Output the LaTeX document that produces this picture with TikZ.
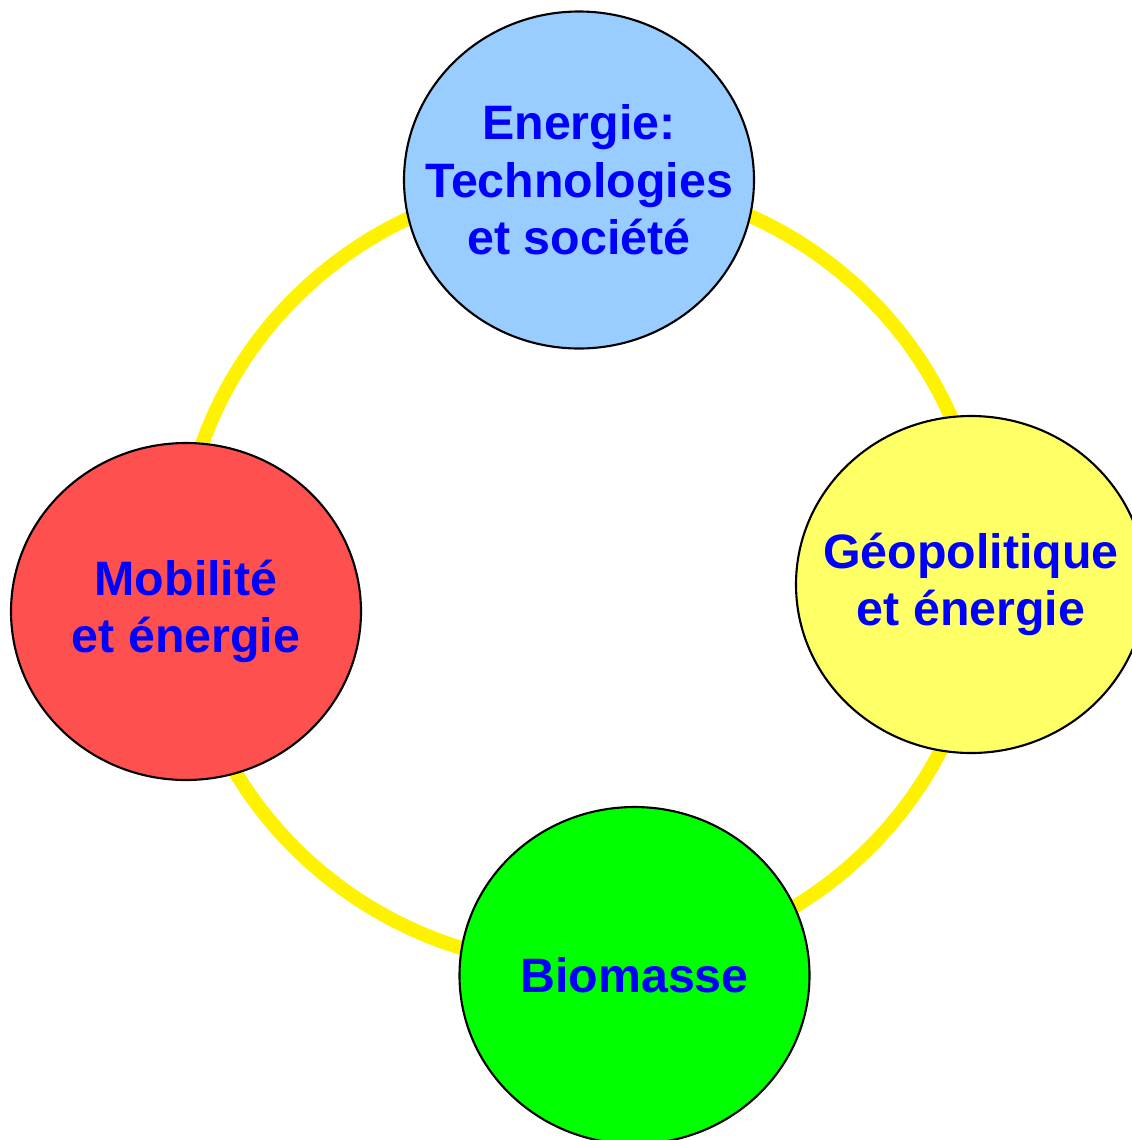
\documentclass[tikz,border=0pt]{standalone}
\usepackage{fontspec}
\setmainfont{Liberation Sans}
\usetikzlibrary{shapes.geometric}
\definecolor{topicblue}{HTML}{99CCFF}
\definecolor{topicred}{HTML}{FF5050}
\definecolor{topicyellow}{HTML}{FFFF66}
\definecolor{topicgreen}{HTML}{00FF00}
\definecolor{labelblue}{HTML}{0000FF}
\tikzset{
  topic/.style={ellipse,draw=black,line width=0.6pt,minimum width=3.5cm,
    minimum height=3.37cm,inner sep=-1.2cm,align=center,text=labelblue,
    font=\fontsize{13.75}{16.3}\selectfont\bfseries},
  ring/.style={draw=yellow,line width=4pt}
}
\begin{document}
\begin{tikzpicture}
    \useasboundingbox (0,0) rectangle (11.32,-11.40);
    \clip (0,0) rectangle (11.32,-11.40);
    \coordinate (hub) at (5.82,-5.73);
    \draw[ring] (hub) ellipse [x radius=4.02,y radius=3.93];
    \node[topic,fill=topicblue] (energie) at (5.79,-1.80) {Energie:\\Technologies\\et société};
    \node[topic,fill=topicred] (mobilite) at (1.86,-6.115) {Mobilité\\et énergie};
    \node[topic,fill=topicyellow] (geopol) at (9.71,-5.845) {Géopolitique\\et énergie};
    \node[topic,fill=topicgreen] (biomasse) at (6.345,-9.755) {Biomasse};
  \end{tikzpicture}
\end{document}
